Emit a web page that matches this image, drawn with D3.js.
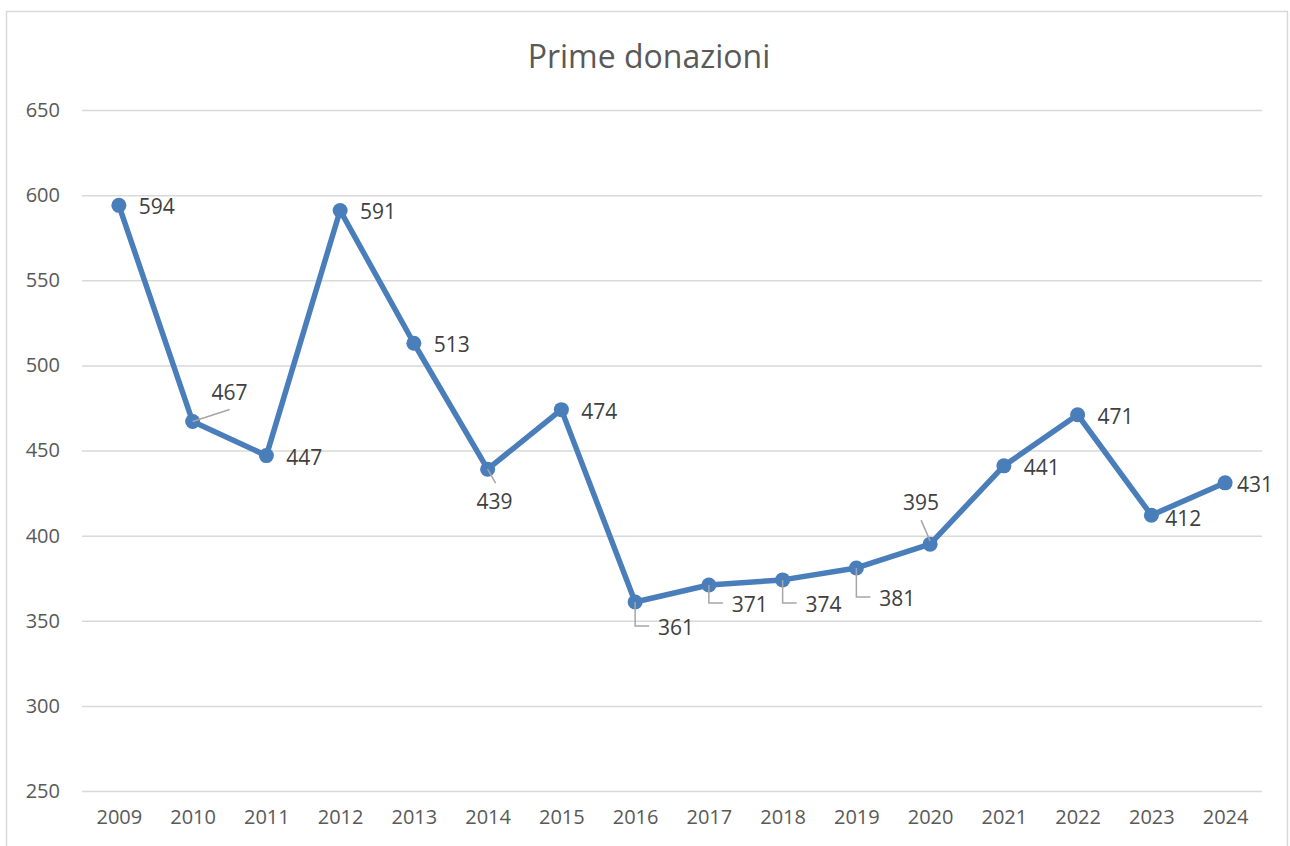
<!DOCTYPE html>
<html lang="it">
<head>
<meta charset="UTF-8">
<title>Prime donazioni</title>
<script src="https://d3js.org/d3.v7.min.js"></script>
<style>
    body { margin: 0; background: #fff; font-family: "Open Sans", Arial, sans-serif; }
    .grid line { stroke: #d9d9d9; stroke-width: 1.5; }
    .tick text { fill: #595959; font-size: 20px; font-family: "Open Sans", Arial, sans-serif; }
</style>
</head>
<body>
<div id="chart"></div>
<script>
    // data
    var years = ["2009", "2010", "2011", "2012", "2013", "2014", "2015", "2016",
                 "2017", "2018", "2019", "2020", "2021", "2022", "2023", "2024"];
    var donations = [594, 467, 447, 591, 513, 439, 474, 361, 371, 374, 381, 395, 441, 471, 412, 431];
    var yTicks = [250, 300, 350, 400, 450, 500, 550, 600, 650];

    // where each data label sits relative to its point: r = right, a = above, b = below, l = L-shaped leader
    var labelPlace = ["r", "a", "r", "r", "r", "b", "r", "l", "l", "l", "l", "a", "r", "r", "r", "r"];
    // how far the L-shaped leaders drop, by index
    var leaderDrop = {7: 24, 8: 18, 9: 23, 10: 29};

    var W = 1290, H = 846;
    var margin = {top: 110, right: 28, bottom: 55, left: 82};
    var width = W - margin.left - margin.right,
        height = 791 - margin.top;

    var svg = d3.select("#chart").append("svg")
        .attr("width", W).attr("height", H);

    // outer chart border
    svg.append("rect")
        .attr("x", 6.5).attr("y", 11.5)
        .attr("width", 1281).attr("height", 850)
        .attr("fill", "none").attr("stroke", "#d9d9d9").attr("stroke-width", 1.5);

    svg.append("text")
        .attr("x", 649).attr("y", 68)
        .attr("text-anchor", "middle")
        .attr("fill", "#595959")
        .style("font-size", "32px")
        .text("Prime donazioni");

    var g = svg.append("g").attr("transform", `translate(${margin.left},${margin.top})`);

    var x = d3.scalePoint().domain(years).range([0, width]).padding(0.5);
    var y = d3.scaleLinear().domain([250, 650]).range([height, 0]);

    // gridlines + y labels
    g.append("g").attr("class", "grid")
        .call(d3.axisLeft(y).tickValues(yTicks).tickSize(-width).tickPadding(22))
        .call(function (s) { s.select(".domain").remove(); });

    // x labels
    g.append("g").attr("class", "grid")
        .attr("transform", `translate(0,${height})`)
        .call(d3.axisBottom(x).tickSize(0).tickPadding(19))
        .call(function (s) { s.select(".domain").remove(); });

    var line = d3.line()
        .x(function (d, i) { return x(years[i]); })
        .y(function (d) { return y(d); });

    g.append("path")
        .datum(donations)
        .attr("fill", "none")
        .attr("stroke", "#4a7ebb")
        .attr("stroke-width", 5.5)
        .attr("stroke-linejoin", "round")
        .attr("d", line);

    g.selectAll(".dot")
        .data(donations)
        .enter().append("circle")
        .attr("class", "dot")
        .attr("cx", function (d, i) { return x(years[i]); })
        .attr("cy", function (d) { return y(d); })
        .attr("r", 7.5)
        .attr("fill", "#4a7ebb");

    // data labels
    donations.forEach(function (d, i) {
        var px = x(years[i]), py = y(d), p = labelPlace[i];
        var lx, ly;
        if (p === "r") { lx = px + 38; ly = py + 9; }
        else if (p === "a") {
            if (i === 1) {
                lx = px + 37; ly = py - 22;
                g.append("line").attr("x1", px).attr("y1", py).attr("x2", px + 37).attr("y2", py - 12)
                    .attr("stroke", "#a6a6a6").attr("stroke-width", 1.5);
            } else {
                lx = px - 9; ly = py - 34;
                g.append("line").attr("x1", px).attr("y1", py - 3).attr("x2", px - 9).attr("y2", py - 24)
                    .attr("stroke", "#a6a6a6").attr("stroke-width", 1.5);
            }
        }
        else if (p === "b") {
            lx = px + 7; ly = py + 40;
            g.append("line").attr("x1", px).attr("y1", py).attr("x2", px + 8).attr("y2", py + 14)
                .attr("stroke", "#a6a6a6").attr("stroke-width", 1.5);
        }
        else {
            var drop = leaderDrop[i];
            lx = px + 41; ly = py + drop + 9;
            g.append("polyline")
                .attr("points", [[px, py], [px, py + drop], [px + 14, py + drop]].map(function (q) { return q.join(","); }).join(" "))
                .attr("fill", "none").attr("stroke", "#a6a6a6").attr("stroke-width", 1.5);
        }
        if (i === 14) { lx = px + 32; ly = py + 11; }
        if (i === 15) { lx = px + 30; }
        g.append("text")
            .attr("x", lx).attr("y", ly)
            .attr("text-anchor", "middle")
            .attr("fill", "#404040")
            .style("font-size", "21px")
            .text(d);
    });
</script>
</body>
</html>
